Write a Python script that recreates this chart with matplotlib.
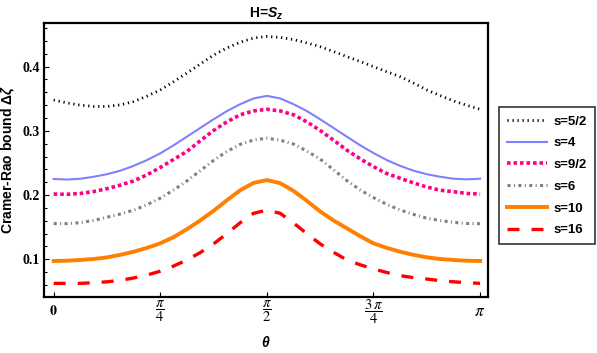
import numpy as np
import matplotlib
matplotlib.use("Agg")
import matplotlib.pyplot as plt

plt.rcParams['mathtext.fontset'] = 'custom'
plt.rcParams['mathtext.rm'] = 'Liberation Sans:bold'
plt.rcParams['mathtext.bf'] = 'Liberation Sans:bold'
plt.rcParams['mathtext.it'] = 'Liberation Sans:italic:bold'

# theta sample points, in units of pi (steps of pi/32)
theta_pi = [j / 32 for j in range(33)]

s_5_2 = [0.348, 0.3435, 0.340, 0.338, 0.338, 0.3405, 0.3455, 0.354, 0.3637, 0.3765,
         0.390, 0.404, 0.418, 0.429, 0.438, 0.4445, 0.447, 0.4455, 0.442, 0.437,
         0.431, 0.4235, 0.4156, 0.408, 0.400, 0.392, 0.3844, 0.3745, 0.3637, 0.355,
         0.3466, 0.3398, 0.3336]
s_4 = [0.225, 0.2242, 0.2255, 0.2285, 0.2325, 0.238, 0.2455, 0.2545, 0.265, 0.2775,
       0.291, 0.3045, 0.318, 0.3308, 0.3415, 0.3505, 0.3544, 0.3505, 0.3415, 0.3308,
       0.318, 0.3045, 0.291, 0.2775, 0.2655, 0.2545, 0.2455, 0.238, 0.2325, 0.2285,
       0.2255, 0.2245, 0.2255]
s_9_2 = [0.2016, 0.2012, 0.2025, 0.2055, 0.210, 0.2155, 0.222, 0.2315, 0.243, 0.2555,
         0.268, 0.2845, 0.3006, 0.314, 0.325, 0.331, 0.3336, 0.331, 0.325, 0.314,
         0.3006, 0.2855, 0.270, 0.2565, 0.2442, 0.2335, 0.2262, 0.219, 0.2125, 0.2075,
         0.2053, 0.2025, 0.2016]
s_6 = [0.1556, 0.1555, 0.157, 0.1605, 0.1655, 0.1705, 0.1765, 0.185, 0.1952, 0.208,
       0.222, 0.238, 0.254, 0.268, 0.279, 0.2858, 0.2885, 0.2855, 0.2795, 0.2685,
       0.256, 0.2395, 0.2225, 0.208, 0.196, 0.1855, 0.1768, 0.170, 0.164, 0.1603,
       0.1576, 0.1558, 0.1555]
s_10 = [0.0974, 0.0978, 0.099, 0.1005, 0.103, 0.107, 0.1118, 0.1178, 0.1249, 0.1345,
        0.147, 0.1605, 0.1755, 0.192, 0.2075, 0.219, 0.2234, 0.2185, 0.2065, 0.191,
        0.1745, 0.1605, 0.1483, 0.136, 0.1249, 0.1178, 0.1118, 0.107, 0.103, 0.1005,
        0.099, 0.0978, 0.0974]
s_16 = [0.0626, 0.0625, 0.0626, 0.0635, 0.065, 0.0672, 0.071, 0.0755, 0.0815, 0.0895,
        0.099, 0.1105, 0.124, 0.140, 0.157, 0.1716, 0.1766, 0.1716, 0.1566, 0.140,
        0.124, 0.111, 0.099, 0.0915, 0.085, 0.0795, 0.0745, 0.0715, 0.0693, 0.0668,
        0.065, 0.0636, 0.0626]

labels = ['s=5/2', 's=4', 's=9/2', 's=6', 's=10', 's=16']
series = [s_5_2, s_4, s_9_2, s_6, s_10, s_16]
colors = ['black', '#8080FF', '#FF0080', '#808080', '#FF8000', '#FF0000']
widths = [2.0, 1.5, 2.6, 2.2, 2.8, 2.4]
styles = [(0, (0.45, 1.35)), '-', (0, (1.0, 0.8)), (0, (1.0, 1.1, 0.35, 1.1)), '-', (0, (3.6, 3.6))]

xticks = [0, np.pi/4, np.pi/2, 3*np.pi/4, np.pi]
xticklabels = [r'$\mathbf{0}$', r'$\dfrac{\pi}{4}$', r'$\dfrac{\pi}{2}$',
               r'$\dfrac{3\,\pi}{4}$', r'$\pi$']
xticksizes = [10, 10.5, 10.5, 10.5, 12.5]
yticks = [0.1, 0.2, 0.3, 0.4]

fig = plt.figure(figsize=(5.97, 3.53), dpi=100)
ax = fig.add_axes([0.0745, 0.1595, 0.7425, 0.7755])

theta = np.array(theta_pi) * np.pi
for vals, lab, c, w, ls in zip(series, labels, colors, widths, styles):
    ax.plot(theta, vals, color=c, lw=w, linestyle=ls, label=lab)

ax.set_xlim(-0.0216*np.pi, 1.018*np.pi)
ax.set_ylim(0.0418, 0.468)

ax.set_xticks(xticks)
ax.set_xticklabels(xticklabels)
ax.set_yticks(yticks)
ax.set_yticks(np.arange(0.06, 0.461, 0.02), minor=True)
ax.set_yticklabels(['0.1', '0.2', '0.3', '0.4'], fontfamily='Liberation Serif',
                   fontweight='bold', fontsize=10)
for t, fs in zip(ax.get_xticklabels(), xticksizes):
    t.set_math_fontfamily('stix')
    t.set_fontsize(fs)
    t.set_verticalalignment('center')

ax.tick_params(axis='both', which='both', direction='in', top=False, right=False,
               width=0.8, color='black')
ax.tick_params(axis='y', which='major', length=3.8, pad=3.5)
ax.tick_params(axis='y', which='minor', length=2.2)
ax.tick_params(axis='x', which='major', length=3.8, pad=10.5)
ax.tick_params(axis='x', which='minor', bottom=False)

for sp in ax.spines.values():
    sp.set_linewidth(1.6)

ax.set_title(r'H=$S_z$', fontfamily='Liberation Sans', fontweight='bold', fontsize=10, pad=4)
ax.set_ylabel(r'Cramer-Rao bound $\mathbf{\Delta}\zeta$', fontfamily='Liberation Sans',
              fontweight='bold', fontsize=10)
ax.yaxis.set_label_coords(-0.063, 0.5)
ax.set_xlabel(r'$\theta$', fontfamily='Liberation Serif', fontweight='bold', fontsize=10)
ax.xaxis.set_label_coords(0.5, -0.14)

leg = fig.legend(loc='center left', bbox_to_anchor=(0.836, 0.502),
                 prop={'family': 'Liberation Sans', 'weight': 'bold', 'size': 9.5},
                 frameon=True, fancybox=False, edgecolor='black',
                 handlelength=3.0, handletextpad=0.55, labelspacing=0.72,
                 borderpad=0.6, borderaxespad=0)
leg.get_frame().set_linewidth(1.2)

fig.savefig('out.png', dpi=100)
